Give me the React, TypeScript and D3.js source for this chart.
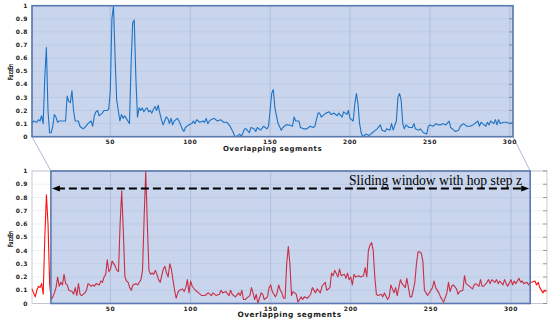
import React from "react";
import * as d3 from "d3";

// FuzzEn per overlapping segment: [segment, value]
const topSeries: [number, number][] = [
  [1,0.10],[2,0.12],[4,0.11],[5,0.13],[6,0.12],[7,0.16],[8,0.10],[9,0.45],[10,0.68],[11,0.20],[12,0.03],[13,0.03],[14,0.08],[15,0.17],[16,0.15],[17,0.11],[18,0.12],[20,0.12],[22,0.12],[23,0.31],[24,0.27],[25,0.26],[26,0.35],[27,0.20],[28,0.12],[30,0.12],[31,0.08],[32,0.07],[33,0.06],[34,0.07],[36,0.10],[37,0.11],[38,0.12],[39,0.08],[40,0.16],[41,0.19],[42,0.20],[43,0.16],[44,0.17],[45,0.18],[46,0.20],[48,0.20],[49,0.21],[50,0.35],[51,0.90],[52,1.0],[53,0.60],[54,0.28],[55,0.20],[56,0.12],[57,0.17],[58,0.14],[59,0.16],[60,0.14],[61,0.12],[62,0.10],[63,0.55],[64,0.87],[65,0.89],[66,0.45],[67,0.15],[68,0.22],[69,0.20],[70,0.22],[71,0.19],[72,0.21],[73,0.22],[74,0.19],[75,0.20],[76,0.18],[77,0.21],[78,0.23],[79,0.20],[80,0.24],[81,0.18],[82,0.13],[83,0.09],[84,0.12],[85,0.15],[86,0.14],[87,0.10],[88,0.14],[89,0.09],[90,0.12],[91,0.13],[92,0.14],[93,0.12],[94,0.09],[95,0.06],[96,0.04],[97,0.07],[99,0.09],[101,0.10],[102,0.12],[103,0.10],[104,0.13],[106,0.11],[108,0.12],[109,0.11],[110,0.14],[111,0.10],[112,0.12],[113,0.13],[115,0.14],[117,0.12],[119,0.13],[121,0.11],[123,0.11],[125,0.08],[127,0.03],[128,0.00],[130,0.01],[131,0.02],[132,0.00],[134,0.06],[135,0.06],[137,0.03],[138,0.07],[140,0.06],[141,0.04],[142,0.07],[144,0.05],[146,0.08],[148,0.06],[149,0.08],[150,0.20],[151,0.33],[152,0.36],[153,0.22],[155,0.10],[157,0.05],[158,0.07],[160,0.09],[162,0.09],[164,0.08],[165,0.15],[166,0.12],[168,0.12],[169,0.07],[171,0.06],[173,0.06],[175,0.08],[177,0.07],[178,0.08],[180,0.18],[181,0.18],[182,0.15],[184,0.17],[185,0.18],[187,0.19],[188,0.17],[190,0.18],[192,0.16],[193,0.18],[195,0.15],[196,0.19],[198,0.17],[199,0.20],[200,0.14],[202,0.12],[203,0.25],[204,0.33],[205,0.25],[206,0.10],[207,0.03],[208,0.00],[210,0.02],[212,0.01],[214,0.03],[216,0.05],[217,0.06],[219,0.09],[220,0.05],[222,0.04],[223,0.06],[225,0.05],[226,0.10],[227,0.05],[229,0.12],[230,0.30],[231,0.33],[232,0.28],[233,0.10],[234,0.06],[235,0.09],[237,0.07],[239,0.07],[240,0.10],[241,0.06],[243,0.05],[244,0.06],[246,0.03],[248,0.02],[249,0.08],[250,0.09],[252,0.08],[254,0.10],[255,0.09],[257,0.09],[258,0.10],[260,0.09],[262,0.12],[263,0.07],[265,0.05],[266,0.04],[268,0.05],[269,0.08],[271,0.10],[272,0.09],[273,0.08],[275,0.08],[277,0.09],[278,0.10],[280,0.12],[281,0.08],[282,0.11],[283,0.10],[285,0.08],[286,0.11],[287,0.09],[288,0.12],[290,0.10],[291,0.13],[292,0.09],[293,0.13],[294,0.10],[296,0.11],[298,0.11],[300,0.10],[302,0.11],
];

const bottomSeries: [number, number][] = [
  [1,0.11],[2,0.08],[3,0.05],[4,0.10],[5,0.13],[6,0.12],[7,0.15],[8,0.07],[9,0.50],[10,0.82],[11,0.60],[12,0.15],[13,0.03],[14,0.05],[15,0.08],[16,0.12],[17,0.20],[18,0.13],[19,0.16],[20,0.14],[21,0.22],[22,0.15],[23,0.14],[24,0.10],[26,0.09],[27,0.07],[28,0.12],[29,0.06],[30,0.15],[31,0.07],[32,0.06],[34,0.08],[35,0.10],[36,0.15],[38,0.13],[39,0.14],[40,0.13],[41,0.15],[43,0.14],[44,0.17],[45,0.16],[46,0.20],[47,0.22],[48,0.33],[49,0.24],[50,0.26],[51,0.32],[53,0.28],[54,0.25],[55,0.24],[56,0.60],[57,0.85],[58,0.55],[59,0.20],[60,0.17],[61,0.16],[62,0.12],[63,0.10],[64,0.14],[66,0.15],[67,0.14],[68,0.16],[69,0.18],[70,0.25],[71,0.65],[72,1.0],[73,0.60],[74,0.25],[75,0.22],[76,0.23],[77,0.22],[78,0.25],[79,0.22],[80,0.18],[81,0.16],[82,0.21],[83,0.26],[84,0.28],[85,0.23],[86,0.20],[87,0.30],[88,0.26],[89,0.18],[90,0.10],[91,0.04],[92,0.08],[93,0.10],[95,0.11],[96,0.09],[97,0.12],[98,0.18],[99,0.08],[100,0.17],[101,0.13],[103,0.10],[105,0.08],[107,0.06],[109,0.06],[110,0.07],[111,0.08],[113,0.06],[114,0.08],[116,0.06],[118,0.07],[119,0.10],[120,0.08],[122,0.09],[124,0.06],[125,0.10],[126,0.07],[128,0.05],[130,0.08],[131,0.06],[132,0.10],[133,0.03],[134,0.03],[136,0.05],[137,0.06],[138,0.12],[139,0.08],[140,0.03],[141,0.07],[142,0.00],[144,0.08],[145,0.07],[146,0.03],[148,0.05],[149,0.12],[150,0.14],[151,0.09],[152,0.07],[153,0.05],[154,0.08],[155,0.14],[156,0.10],[157,0.08],[158,0.04],[159,0.04],[160,0.30],[161,0.43],[162,0.30],[163,0.06],[164,0.09],[165,0.08],[166,0.07],[167,0.01],[169,0.05],[170,0.03],[171,0.05],[173,0.04],[175,0.07],[176,0.12],[178,0.08],[179,0.11],[181,0.08],[182,0.13],[184,0.16],[185,0.10],[187,0.12],[188,0.23],[189,0.21],[190,0.25],[192,0.20],[193,0.26],[194,0.21],[196,0.22],[197,0.19],[198,0.23],[199,0.18],[200,0.20],[201,0.14],[202,0.22],[203,0.20],[205,0.21],[206,0.20],[208,0.21],[209,0.27],[210,0.20],[211,0.40],[212,0.44],[213,0.46],[214,0.40],[215,0.20],[216,0.07],[217,0.06],[219,0.07],[220,0.05],[221,0.08],[223,0.03],[224,0.05],[225,0.14],[227,0.08],[228,0.12],[229,0.06],[231,0.18],[232,0.15],[234,0.12],[235,0.19],[237,0.05],[238,0.05],[239,0.10],[240,0.16],[241,0.30],[242,0.39],[243,0.39],[244,0.38],[245,0.32],[246,0.10],[247,0.08],[248,0.06],[250,0.10],[251,0.12],[252,0.17],[253,0.12],[255,0.08],[256,0.05],[257,0.03],[258,0.01],[260,0.08],[261,0.16],[262,0.09],[263,0.13],[264,0.14],[266,0.11],[267,0.07],[268,0.09],[270,0.10],[271,0.21],[272,0.15],[273,0.14],[275,0.12],[276,0.11],[277,0.14],[278,0.15],[280,0.13],[281,0.18],[282,0.13],[283,0.13],[285,0.16],[286,0.18],[287,0.15],[288,0.18],[290,0.16],[291,0.18],[292,0.15],[293,0.17],[295,0.14],[296,0.18],[297,0.15],[298,0.13],[300,0.18],[301,0.14],[302,0.17],[303,0.15],[305,0.19],[306,0.16],[307,0.17],[308,0.15],[310,0.16],[311,0.14],[312,0.16],[313,0.16],[315,0.17],[316,0.14],[317,0.16],[318,0.12],[320,0.08],[321,0.10],[322,0.09],
];

const xTicks = [50, 100, 150, 200, 250, 300];
const yTicks = [0, 0.1, 0.2, 0.3, 0.4, 0.5, 0.6, 0.7, 0.8, 0.9, 1];
const xLabel = "Overlapping segments";
const yLabel = "FuzzEn";
const windowLabel = "Sliding window with hop step z";
const windowRange = [12.8, 312]; // segments covered by the sliding window (bottom panel)
const arrowLevel = 0.867;

const tickFont = { fontFamily: "'DejaVu Sans', sans-serif", fontWeight: 700, fill: "#222" };
const overlayFill = "#4a73c4";
const overlayOpacity = 0.3;
const boxStroke = "#5d78b0";

type PanelProps = {
  data: [number, number][];
  domain: [number, number];
  left: number;
  right: number;
  top: number;
  bottom: number;
  color: string;
  labelSize: number;
  tickY: number;
  labelY: number;
  yLabelY: number;
  children?: React.ReactNode;
};

function Panel(p: PanelProps) {
  const x = d3.scaleLinear().domain(p.domain).range([p.left, p.right]);
  const y = d3.scaleLinear().domain([0, 1]).range([p.bottom, p.top]);
  const line = d3
    .line<[number, number]>()
    .x((d) => x(d[0]))
    .y((d) => y(d[1]));
  const fmt = (v: number) => String(+v.toFixed(1));

  return (
    <g>
      <rect x={p.left} y={p.top} width={p.right - p.left} height={p.bottom - p.top} fill="#fff" />
      {/* grid */}
      {yTicks.map((t) => (
        <line key={"hy" + t} x1={p.left} x2={p.right} y1={y(t)} y2={y(t)} stroke="#e4e7ec" strokeWidth={0.6} />
      ))}
      {xTicks.map((t) => (
        <line key={"gx" + t} x1={x(t)} x2={x(t)} y1={p.top} y2={p.bottom} stroke="#d3d8e0" strokeWidth={0.8} />
      ))}
      <rect x={p.left} y={p.top} width={p.right - p.left} height={p.bottom - p.top} fill="none" stroke="#b9bec8" strokeWidth={0.8} />
      {/* right-side tick marks */}
      {yTicks.map((t) => (
        <line key={"ty" + t} x1={p.right - 4} x2={p.right} y1={y(t)} y2={y(t)} stroke="#777" strokeWidth={0.7} />
      ))}
      <path d={line(p.data) || ""} fill="none" stroke={p.color} strokeWidth={1.1} strokeLinejoin="round" />
      {p.children}
      {/* tick labels */}
      {yTicks.map((t) => (
        <text key={"ly" + t} x={p.left - 4} y={y(t)} dy="0.35em" textAnchor="end" fontSize={6} letterSpacing={0.5} {...tickFont}>
          {fmt(t)}
        </text>
      ))}
      {xTicks.map((t) => (
        <text key={"lx" + t} x={x(t)} y={p.tickY} textAnchor="middle" fontSize={6} letterSpacing={0.5} {...tickFont}>
          {t}
        </text>
      ))}
      <text x={(p.left + p.right) / 2} y={p.labelY} textAnchor="middle" fontSize={p.labelSize} letterSpacing={0.5} {...tickFont}>
        {xLabel}
      </text>
      <text
        transform={`translate(12.8,${p.yLabelY}) rotate(-90)`}
        textAnchor="middle"
        fontSize={7.2}
        textLength={16}
        lengthAdjust="spacingAndGlyphs"
        {...tickFont}
      >
        {yLabel}
      </text>
    </g>
  );
}

export default function App() {
  const topBox = { left: 32, right: 513, top: 5.7, bottom: 136.7 };
  const botBox = { left: 32, right: 547, top: 171, bottom: 303.5 };
  const xBot = d3.scaleLinear().domain([1, 322.5]).range([botBox.left, botBox.right]);
  const yBot = d3.scaleLinear().domain([0, 1]).range([botBox.bottom, botBox.top]);
  const wx0 = xBot(windowRange[0]);
  const wx1 = xBot(windowRange[1]);
  const ay = yBot(arrowLevel);

  return (
    <svg width={550} height={320} style={{ position: "absolute", left: 0, top: 0 }}>
      <rect width={550} height={320} fill="#fff" />
      {/* zoom connectors */}
      <line x1={topBox.left} y1={topBox.bottom} x2={wx0} y2={botBox.top} stroke="#9fb3d6" strokeWidth={0.9} />
      <line x1={topBox.right} y1={topBox.bottom} x2={wx1} y2={botBox.top} stroke="#9fb3d6" strokeWidth={0.9} />

      <Panel data={topSeries} domain={[1, 302]} {...topBox} color="#0a73c6" labelSize={7} tickY={144} labelY={150.5} yLabelY={72}>
        <rect
          x={topBox.left}
          y={topBox.top}
          width={topBox.right - topBox.left}
          height={topBox.bottom - topBox.top}
          fill={overlayFill}
          fillOpacity={overlayOpacity}
          stroke={boxStroke}
          strokeWidth={1.6}
        />
      </Panel>

      <Panel data={bottomSeries} domain={[1, 322.5]} {...botBox} color="#ff1010" labelSize={7.4} tickY={310.5} labelY={317} yLabelY={239}>
        <rect
          x={wx0}
          y={botBox.top}
          width={wx1 - wx0}
          height={botBox.bottom - botBox.top}
          fill={overlayFill}
          fillOpacity={overlayOpacity}
          stroke={boxStroke}
          strokeWidth={1.6}
        />
        {/* sliding window arrow */}
        <line x1={wx0 + 6} x2={wx1 - 6} y1={ay} y2={ay} stroke="#000" strokeWidth={2} strokeDasharray="8,4" />
        <path d={`M${wx0 + 1},${ay} L${wx0 + 9},${ay - 3} L${wx0 + 9},${ay + 3} Z`} fill="#000" />
        <path d={`M${wx1 - 1},${ay} L${wx1 - 9},${ay - 3} L${wx1 - 9},${ay + 3} Z`} fill="#000" />
        <text
          x={349}
          y={185}
          fontFamily="'Liberation Serif', 'Times New Roman', serif"
          fontSize={15}
          textLength={173}
          lengthAdjust="spacingAndGlyphs"
          fill="#000"
        >
          {windowLabel}
        </text>
      </Panel>
    </svg>
  );
}
